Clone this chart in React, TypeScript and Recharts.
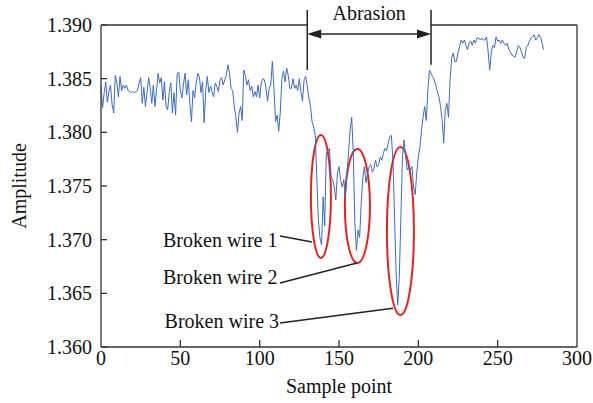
import React from 'react'
import {
  LineChart, Line, XAxis, YAxis, ReferenceLine, ReferenceArea, ReferenceDot,
} from 'recharts'

// amplitude per sample point
const beforeAbrasion = [
  1.3843, 1.3823, 1.3837, 1.3847, 1.3828, 1.3838, 1.3844, 1.3826, 1.3818, 1.3853,
  1.3846, 1.3833, 1.3852, 1.3839, 1.3844, 1.3841, 1.3844, 1.3839, 1.3838, 1.3837,
  1.3838, 1.3837, 1.3838, 1.3839, 1.3846, 1.3851, 1.3827, 1.3842, 1.3824, 1.3837,
  1.3851, 1.3842, 1.3827, 1.3844, 1.3824, 1.3839, 1.3855, 1.3846, 1.3851, 1.3830,
  1.3847, 1.3824, 1.3821, 1.3837, 1.3846, 1.3818, 1.3837, 1.3816, 1.3855, 1.3856,
  1.3839, 1.3832, 1.3845, 1.3855, 1.3835, 1.3849, 1.3827, 1.3810, 1.3839, 1.3832,
  1.3846, 1.3855, 1.3852, 1.3837, 1.3847, 1.3809, 1.3839, 1.3852, 1.3837, 1.3843,
  1.3838, 1.3833, 1.3846, 1.3843, 1.3838, 1.3849, 1.3851, 1.3844, 1.3849, 1.3853,
  1.3863, 1.3855, 1.3841, 1.3839, 1.3824, 1.3814, 1.3800, 1.3818, 1.3824, 1.3811,
  1.3858, 1.3853, 1.3844, 1.3849, 1.3839, 1.3843, 1.3833, 1.3838, 1.3833, 1.3844,
  1.3832, 1.3846, 1.3850, 1.3849, 1.3841, 1.3829, 1.3841, 1.3844, 1.3866, 1.3841,
  1.3810, 1.3816, 1.3801, 1.3819, 1.3850, 1.3857, 1.3847, 1.3860, 1.3853, 1.3841,
  1.3841, 1.3850, 1.3841, 1.3844, 1.3839, 1.3850, 1.3838, 1.3829, 1.3849, 1.3852,
]

const duringAbrasion = [
  1.3843, 1.3832, 1.3825, 1.3810, 1.3805, 1.3798, 1.3758, 1.3718, 1.3702, 1.3695,
  1.3740, 1.3713, 1.3781, 1.3783, 1.3785, 1.3758, 1.3756, 1.3749, 1.3737, 1.3762,
  1.3768, 1.3756, 1.3749, 1.3756, 1.3740, 1.3762, 1.3781, 1.3802, 1.3814, 1.3781,
  1.3715, 1.3690, 1.3709, 1.3702, 1.3734, 1.3758, 1.3768, 1.3753, 1.3762, 1.3768,
  1.3770, 1.3763, 1.3766, 1.3774, 1.3768, 1.3770, 1.3777, 1.3774, 1.3781, 1.3785,
  1.3783, 1.3790, 1.3796, 1.3797, 1.3774, 1.3721, 1.3669, 1.3639, 1.3665, 1.3721,
  1.3777, 1.3793, 1.3777, 1.3765, 1.3768, 1.3765, 1.3768, 1.3749, 1.3742, 1.3762,
  1.3777, 1.3786, 1.3802, 1.3814, 1.3824, 1.3811, 1.3839, 1.3858, 1.3855, 1.3852,
]

const afterAbrasion = [
  1.3849, 1.3844, 1.3838, 1.3833, 1.3824, 1.3811, 1.3790, 1.3821, 1.3827, 1.3814,
  1.3849, 1.3869, 1.3874, 1.3866, 1.3866, 1.3874, 1.3880, 1.3886, 1.3883, 1.3886,
  1.3881, 1.3877, 1.3883, 1.3885, 1.3881, 1.3886, 1.3883, 1.3888, 1.3888, 1.3886,
  1.3888, 1.3886, 1.3886, 1.3889, 1.3875, 1.3858, 1.3875, 1.3881, 1.3879, 1.3889,
  1.3885, 1.3886, 1.3883, 1.3886, 1.3883, 1.3881, 1.3883, 1.3877, 1.3875, 1.3872,
  1.3871, 1.3870, 1.3875, 1.3881, 1.3879, 1.3875, 1.3870, 1.3869, 1.3879, 1.3881,
  1.3885, 1.3888, 1.3889, 1.3891, 1.3886, 1.3888, 1.3891, 1.3889, 1.3883, 1.3877,
]

const xTicks = [0, 50, 100, 150, 200, 250, 300]
const yTicks = [1.36, 1.365, 1.37, 1.375, 1.38, 1.385, 1.39]

const abrasionStart = 130
const abrasionEnd = 208

// ellipses around the three broken-wire drops (data coords)
const brokenWireZones = [
  { x1: 132.3, x2: 144.9, y1: 1.3683, y2: 1.37975 },
  { x1: 153.7, x2: 169.5, y1: 1.36782, y2: 1.37844 },
  { x1: 180.2, x2: 197.2, y1: 1.36297, y2: 1.37863 },
]
const brokenWireLabels = [
  { text: 'Broken wire 1', x: 111.2, y: 1.36996, from: [112.8, 1.37034], to: [133.0, 1.36978] },
  { text: 'Broken wire 2', x: 111.2, y: 1.36651, from: [112.8, 1.36596], to: [161.3, 1.36782] },
  { text: 'Broken wire 3', x: 112.2, y: 1.36241, from: [112.8, 1.36223], to: [184.0, 1.36362] },
]

const amplitude = [...beforeAbrasion, ...duringAbrasion, ...afterAbrasion]
const data = amplitude.map((v, i) => ({ sample: i, amplitude: v }))

const FONT = '"Liberation Serif", "Times New Roman", "DejaVu Serif", serif'
const INK = '#222'
const AXIS = '#333'
const textStyle = { fontFamily: FONT, fontSize: 20, fill: '#111' }

const YTick = (props: any) => {
  const { x, y, payload } = props
  return (
    <g>
      <line x1={x + 9} x2={x + 15} y1={y} y2={y} stroke={AXIS} strokeWidth={1.3} />
      <text x={x} y={y} dy="0.35em" textAnchor="end" style={textStyle}>
        {Number(payload.value).toFixed(3)}
      </text>
    </g>
  )
}

const XTick = (props: any) => {
  const { x, y, payload } = props
  return (
    <g>
      {payload.value > 0 && payload.value < 300 && (
        <line x1={x} x2={x} y1={y - 4} y2={y - 11} stroke={AXIS} strokeWidth={1.3} />
      )}
      <text x={x} y={y + 14} textAnchor="middle" style={textStyle}>
        {payload.value}
      </text>
    </g>
  )
}

const EllipseShape = (p: any) => {
  const { x, y, width, height } = p
  return (
    <ellipse
      cx={x + width / 2} cy={y + height / 2} rx={Math.abs(width) / 2} ry={Math.abs(height) / 2}
      fill="none" stroke="#e5231d" strokeWidth={2}
    />
  )
}

const ArrowShape = (p: any) => {
  const { x1, y1, x2, y2 } = p
  const len = 14
  const hw = 4.5
  return (
    <g>
      <line x1={x1 + len} y1={y1} x2={x2 - len} y2={y2} stroke={INK} strokeWidth={1.5} />
      <polygon points={`${x1},${y1} ${x1 + len},${y1 - hw} ${x1 + len},${y1 + hw}`} fill={INK} />
      <polygon points={`${x2},${y2} ${x2 - len},${y2 - hw} ${x2 - len},${y2 + hw}`} fill={INK} />
      <text x={(x1 + x2) / 2} y={y1 - 14} textAnchor="middle" style={textStyle}>
        Abrasion
      </text>
    </g>
  )
}

const labelShape = (text: string) => (p: any) => (
  <text x={p.cx} y={p.cy} dy="0.35em" textAnchor="end" style={textStyle}>
    {text}
  </text>
)

export default function App() {
  return (
    <div style={{ position: 'absolute', left: 0, top: 0, width: 593, height: 403, background: '#fff', fontFamily: FONT }}>
      <LineChart width={593} height={403} data={data} margin={{ top: 25, right: 16, bottom: 0, left: 0 }}>
        <XAxis
          type="number"
          dataKey="sample"
          domain={[0, 300]}
          ticks={xTicks}
          height={56}
          tickSize={0}
          tickMargin={4}
          tickLine={false}
          tick={<XTick />}
          stroke={AXIS}
          strokeWidth={1.3}
          label={{
            content: (lp: any) => {
              const vb = lp.viewBox
              return (
                <text x={vb.x + vb.width / 2} y={vb.y + 46} textAnchor="middle" style={textStyle}>
                  Sample point
                </text>
              )
            },
          }}
        />
        <YAxis
          type="number"
          domain={[1.36, 1.39]}
          ticks={yTicks}
          width={101}
          tickSize={0}
          tickMargin={9}
          tickLine={false}
          tick={<YTick />}
          allowDataOverflow
          stroke={AXIS}
          strokeWidth={1.3}
          label={{
            content: (lp: any) => {
              const vb = lp.viewBox
              const cx = vb.x + 19
              const cy = vb.y + vb.height / 2
              return (
                <text
                  x={cx} y={cy} dy="0.35em" textAnchor="middle"
                  transform={`rotate(-90, ${cx}, ${cy})`}
                  style={textStyle}
                >
                  Amplitude
                </text>
              )
            },
          }}
        />
        {/* frame: right side and top, top is interrupted by the annotation */}
        <ReferenceLine x={300} stroke={AXIS} strokeWidth={1.3} ifOverflow="visible" />
        <ReferenceLine segment={[{ x: 0, y: 1.39 }, { x: abrasionStart, y: 1.39 }]} stroke={AXIS} strokeWidth={1.3} ifOverflow="visible" />
        <ReferenceLine segment={[{ x: abrasionEnd, y: 1.39 }, { x: 300, y: 1.39 }]} stroke={AXIS} strokeWidth={1.3} ifOverflow="visible" />

        <Line
          type="linear"
          dataKey="amplitude"
          stroke="#3a6cc3"
          strokeWidth={1}
          dot={false}
          isAnimationActive={false}
        />

        {/* abrasion span */}
        <ReferenceLine segment={[{ x: abrasionStart, y: 1.3914 }, { x: abrasionStart, y: 1.3858 }]} stroke={INK} strokeWidth={1.5} ifOverflow="visible" />
        <ReferenceLine segment={[{ x: abrasionEnd, y: 1.3914 }, { x: abrasionEnd, y: 1.3863 }]} stroke={INK} strokeWidth={1.5} ifOverflow="visible" />
        <ReferenceLine
          segment={[{ x: abrasionStart, y: 1.38916 }, { x: abrasionEnd, y: 1.38916 }]}
          ifOverflow="visible"
          shape={ArrowShape}
        />

        {brokenWireZones.map((z, i) => (
          <ReferenceArea key={`z${i}`} x1={z.x1} x2={z.x2} y1={z.y1} y2={z.y2} ifOverflow="visible" shape={EllipseShape} />
        ))}
        {brokenWireLabels.map((l, i) => (
          <ReferenceLine
            key={`l${i}`}
            segment={[{ x: l.from[0], y: l.from[1] }, { x: l.to[0], y: l.to[1] }]}
            stroke={INK}
            strokeWidth={1.5}
            ifOverflow="visible"
          />
        ))}
        {brokenWireLabels.map((l, i) => (
          <ReferenceDot key={`t${i}`} x={l.x} y={l.y} r={0} ifOverflow="visible" shape={labelShape(l.text)} />
        ))}
      </LineChart>
    </div>
  )
}
